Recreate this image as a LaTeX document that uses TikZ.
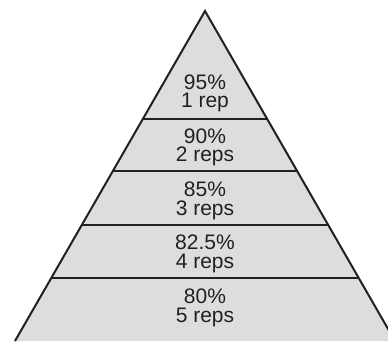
\documentclass[tikz,border=0pt]{standalone}
\usepackage{fontspec}
\setmainfont{Liberation Sans}
\usetikzlibrary{calc}
\definecolor{pyrfill}{RGB}{220,221,223}
\definecolor{ink}{RGB}{35,31,32}
\begin{document}
\begin{tikzpicture}[x=1pt,y=-1pt,
  edge/.style={draw=ink, line width=2pt, line join=miter},
  divider/.style={draw=ink, line width=2pt},
  lbl/.style={align=center, text=ink, font=\fontsize{21}{18.7}\selectfont, inner sep=0pt, anchor=base}]
\useasboundingbox (0,0) rectangle (388,341);
\clip (0,0) rectangle (388,341);
\coordinate (A) at (205,11);
\coordinate (BL) at (15,341);
\coordinate (BR) at (395,341);
\fill[pyrfill] (A) -- (BL) -- (BR) -- cycle;
\foreach \yy/\nm in {118.5/d1,171/d2,224.5/d3,278/d4}{
  \pgfmathsetmacro{\myfrac}{(\yy-11)/330}
  \coordinate (\nm L) at ($(A)!\myfrac!(BL)$);
  \coordinate (\nm R) at ($(A)!\myfrac!(BR)$);
  \draw[divider] (\nm L) -- (\nm R);
}
\draw[edge] (BL) -- (A) -- (BR);
\node[lbl] (t1) at (205,107.7) {95\%\\1 rep};
\node[lbl] (t2) at (205,161.7) {90\%\\2 reps};
\node[lbl] (t3) at (205,215) {85\%\\3 reps};
\node[lbl] (t4) at (205,268.5) {82.5\%\\4 reps};
\node[lbl] (t5) at (205,322) {80\%\\5 reps};
\end{tikzpicture}
\end{document}
